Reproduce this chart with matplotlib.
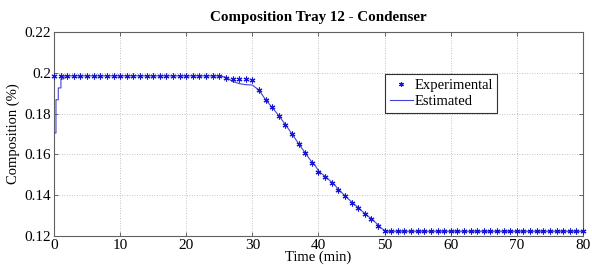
import numpy as np
import matplotlib
matplotlib.use("Agg")
import matplotlib.pyplot as plt

plt.rcParams['font.family'] = ['Liberation Serif', 'DejaVu Serif']

# Experimental samples, one per minute (0..80)
exp_time = np.arange(0, 81)
exp_comp = ([0.1985] * 26 +
            [0.1977, 0.1970, 0.1970, 0.1968, 0.1964,
             0.1917, 0.1866, 0.1830, 0.1790, 0.1745,
             0.1700, 0.1650, 0.1606, 0.1560, 0.1516,
             0.1489, 0.1460, 0.1426, 0.1394, 0.1364,
             0.1337, 0.1307, 0.1283, 0.1250, 0.1224] +
            [0.1223] * 30)

# Estimated composition (model output)
est_time = [0, 0.3, 0.3, 0.65, 0.65, 1.05, 1.05, 1.5, 1.5, 25, 26, 27, 28, 29, 30,
            31, 32, 33, 34, 35, 36, 37, 38, 39, 39.5, 40, 40.5, 41, 41.5, 42, 42.5,
            43, 43.5, 44, 44.5, 45, 45.5, 46, 46.5, 47, 47.5, 48, 48.5, 49, 49.5,
            50, 50.5, 80]
est_comp = [0.1705, 0.1705, 0.1868, 0.1868, 0.1926, 0.1926, 0.1970, 0.1970, 0.1985,
            0.1985, 0.1978, 0.1958, 0.1947, 0.1942, 0.1940,
            0.1915, 0.1868, 0.1830, 0.1790, 0.1746, 0.1700, 0.1652, 0.1607,
            0.1562, 0.1545, 0.1520, 0.1505, 0.1493, 0.1478, 0.1464, 0.1448,
            0.1430, 0.1413, 0.1398, 0.1382, 0.1368, 0.1352, 0.1341, 0.1324,
            0.1311, 0.1296, 0.1287, 0.1270, 0.1255, 0.1238, 0.1228, 0.1223, 0.1223]

fig = plt.figure(figsize=(5.92, 2.65), dpi=100)
ax = fig.add_axes([0.0912, 0.1094, 0.8936, 0.7698])

ax.plot(est_time, est_comp, '-', color='#4545d5', lw=0.8, label='Estimated', zorder=3)
# MATLAB-style asterisk marker
ax.plot(exp_time, exp_comp, linestyle='none', marker=(6, 2, 0), color='#1515d8',
        ms=4.2, mew=0.8, label='Experimental', clip_on=False, zorder=4)

ax.set_xlim(0, 80)
ax.set_ylim(0.12, 0.22)
ax.set_xticks(np.arange(0, 81, 10))
ax.set_yticks([0.12, 0.14, 0.16, 0.18, 0.2, 0.22])
ax.set_yticklabels(['0.12', '0.14', '0.16', '0.18', '0.2', '0.22'])

ax.grid(True, linestyle=(0, (1, 2)), color='#b0b0b0', lw=0.6)
ax.tick_params(direction='in', top=True, right=True, length=3, width=0.6,
               labelsize=11, pad=2, color='#505050')
for s in ax.spines.values():
    s.set_color('#606060')
    s.set_linewidth(0.8)

ax.set_title('Composition Tray 12 - Condenser', fontsize=10.8, fontweight='bold', pad=8)
ax.set_xlabel('Time (min)', fontsize=10.5, labelpad=-1)
ax.set_ylabel('Composition (%)', fontsize=10.5, labelpad=3)

handles, labels = ax.get_legend_handles_labels()
leg = ax.legend(handles[::-1], labels[::-1], loc='upper left',
                bbox_to_anchor=(0.626, 0.794), fontsize=10.5, frameon=True,
                fancybox=False, borderpad=0.3, handlelength=1.6, handletextpad=0.1,
                labelspacing=0.25, borderaxespad=0, framealpha=1)
leg.get_frame().set_edgecolor('#303030')
leg.get_frame().set_linewidth(0.8)
leg.legend_handles[0].set_markersize(3.5)

fig.savefig('out.png', dpi=100)
